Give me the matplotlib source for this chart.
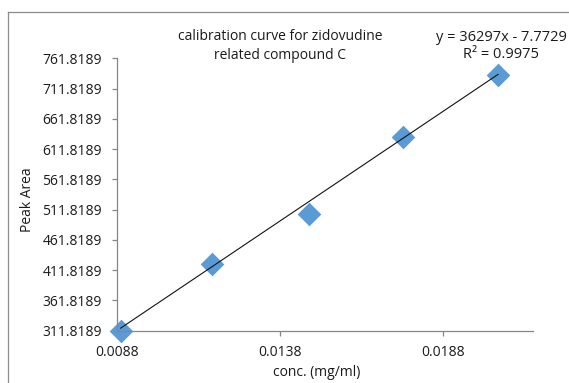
import numpy as np
import matplotlib
matplotlib.use("Agg")
import matplotlib.pyplot as plt
from matplotlib.lines import Line2D

# data
conc = [0.00892, 0.01172, 0.01468, 0.01757, 0.02047]
peak_area = [311.8, 422.0, 504.6, 632.3, 734.2]

# trendline shown on the chart
slope = 36297
intercept = -7.7729
r2 = 0.9975

x_ticks = [0.0088, 0.0138, 0.0188]
y_ticks = [311.8189 + 50 * i for i in range(10)]

plt.rcParams['font.family'] = ['Open Sans', 'DejaVu Sans']

fig = plt.figure(figsize=(5.69, 3.83), dpi=100)
ax = fig.add_axes([0.2051, 0.1366, 0.7322, 0.7112])

# outer chart border (only top and left visible in the picture)
fig.add_artist(Line2D([8 / 569, 8 / 569], [0, 1 - 12 / 383], transform=fig.transFigure,
                      color="#8c8c8c", lw=0.9))
fig.add_artist(Line2D([8 / 569, 1], [1 - 12 / 383, 1 - 12 / 383], transform=fig.transFigure,
                      color="#8c8c8c", lw=0.9))

ax.scatter(conc, peak_area, marker="D", s=145, color="#5b9bd5", zorder=2, linewidths=0,
           clip_on=False)

xs = np.array([conc[0], conc[-1]])
ax.plot(xs, slope * xs + intercept, color="#111111", lw=0.8, zorder=3, clip_on=False)

ax.set_xlim(0.0088, 0.02155)
ax.set_ylim(311.8189, 761.8189)
ax.set_xticks(x_ticks)
ax.set_xticklabels([f"{t:.4f}" for t in x_ticks])
ax.set_yticks(y_ticks)
ax.set_yticklabels([f"{t:.4f}" for t in y_ticks])

for side in ["top", "right"]:
    ax.spines[side].set_visible(False)
for side in ["left", "bottom"]:
    ax.spines[side].set_color("#868686")
    ax.spines[side].set_linewidth(0.9)

ax.tick_params(axis="both", direction="out", length=3.6, width=0.9, color="#868686",
               labelsize=10, labelcolor="#1a1a1a")
ax.tick_params(axis="y", pad=7)
ax.tick_params(axis="x", pad=7)
ax.set_xlabel("conc. (mg/ml)", fontsize=10, color="#1a1a1a", va="center")
ax.set_ylabel("Peak Area", fontsize=10, color="#1a1a1a", va="center")
ax.xaxis.set_label_coords(0.481, -0.152)
ax.yaxis.set_label_coords(-0.213, 0.48)

fig.text(280 / 569, 1 - 46 / 383, "calibration curve for zidovudine\nrelated compound C",
         ha="center", va="center", fontsize=10, color="#1a1a1a", linespacing=1.3)
fig.text(501 / 569, 1 - 46 / 383, f"y = {slope}x - {abs(intercept)}\nR² = {r2}",
         ha="center", va="center", fontsize=10.5, color="#1a1a1a", linespacing=1.25)

fig.savefig("out.png", dpi=100)
